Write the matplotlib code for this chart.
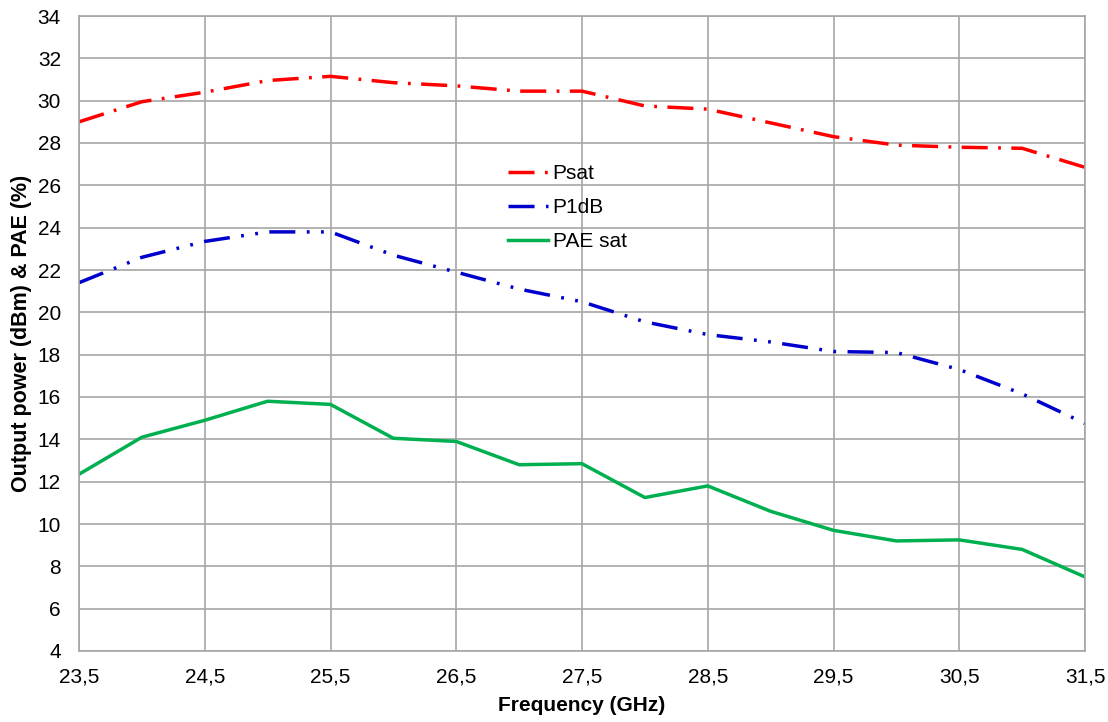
import matplotlib.pyplot as plt
from matplotlib.ticker import FuncFormatter

freq = [23.5, 24.0, 24.5, 25.0, 25.5, 26.0, 26.5, 27.0, 27.5, 28.0, 28.5,
        29.0, 29.5, 30.0, 30.5, 31.0, 31.5]
psat = [29.0, 29.95, 30.4, 30.95, 31.15, 30.85, 30.7, 30.45, 30.45, 29.75,
        29.6, 28.95, 28.3, 27.9, 27.8, 27.75, 26.85]
p1db = [21.4, 22.6, 23.35, 23.8, 23.8, 22.7, 21.9, 21.1, 20.5, 19.55,
        18.95, 18.6, 18.15, 18.1, 17.3, 16.15, 14.75]
pae = [12.35, 14.1, 14.9, 15.8, 15.65, 14.05, 13.9, 12.8, 12.85, 11.25,
       11.8, 10.6, 9.7, 9.2, 9.25, 8.8, 7.5]

plt.rcParams['font.family'] = ['Liberation Sans', 'DejaVu Sans']
fs = 15

fig = plt.figure(figsize=(11.08, 7.22), dpi=100)
ax = fig.add_axes([79 / 1108, 1 - 651 / 722, 1006 / 1108, 635 / 722])

ax.plot(freq, psat, color='#ff0000', lw=2.5, dashes=(7.5, 3, 0.8, 3), label='Psat')
ax.plot(freq, p1db, color='#0000cc', lw=2.5, dashes=(7.5, 3.3, 0.8, 3.3, 0.8, 3.3), label='P1dB')
ax.plot(freq, pae, color='#00b050', lw=2.5, label='PAE sat')

ax.set_xlim(23.5, 31.5)
ax.set_ylim(4, 34)
ax.set_xticks([23.5 + i for i in range(9)])
ax.set_yticks(range(4, 35, 2))
ax.xaxis.set_major_formatter(FuncFormatter(lambda v, p: f'{v:.1f}'.replace('.', ',')))
ax.grid(True, color='#a6a6a6', lw=1.2)
for s in ax.spines.values():
    s.set_color('#a6a6a6')
    s.set_linewidth(1.2)
ax.tick_params(length=0, labelsize=fs)
ax.tick_params(axis='y', pad=13)
ax.tick_params(axis='x', pad=12)

ax.set_xlabel('Frequency (GHz)', fontsize=fs, fontweight='bold', labelpad=7)
ax.set_ylabel('Output power (dBm) & PAE (%)', fontsize=15.5, fontweight='bold', labelpad=4)

ax.legend(loc='upper left', bbox_to_anchor=(0.418, 0.78), frameon=False,
          fontsize=fs, handlelength=1.95, labelspacing=0.72, handletextpad=0.2,
          borderaxespad=0)

fig.savefig('out.png', dpi=100)
